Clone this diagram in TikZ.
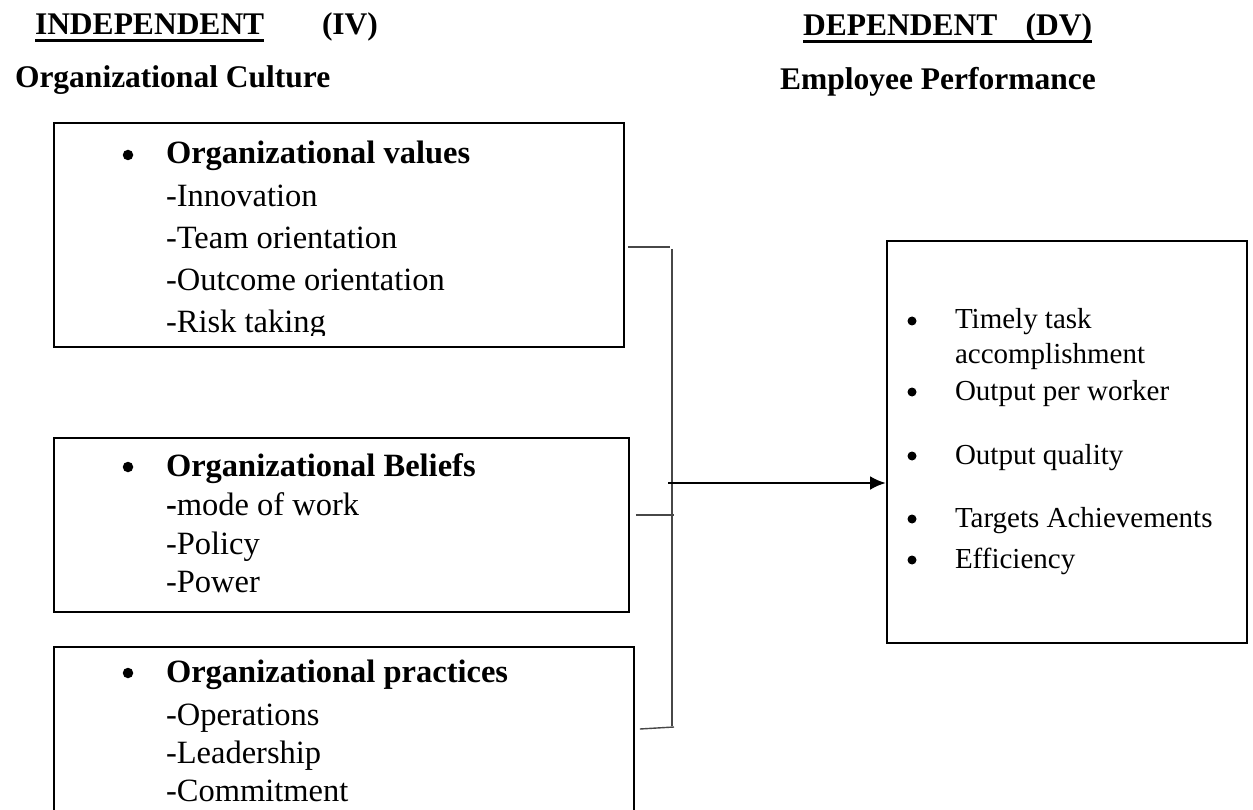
\documentclass[tikz,border=0pt]{standalone}
\usepackage{fontspec}
\setmainfont{Liberation Serif}
\usetikzlibrary{arrows.meta,calc}
\begin{document}
\begin{tikzpicture}[x=1pt,y=-1pt,
  txt/.style={inner sep=0pt, outer sep=0pt, anchor=base west, font=\fontsize{32.5}{38}\selectfont},
  btxt/.style={txt, font=\fontsize{32.5}{38}\selectfont\bfseries},
  htxt/.style={txt, font=\fontsize{31.5}{38}\selectfont\bfseries},
  rtxt/.style={txt, font=\fontsize{29}{34}\selectfont},
  bul/.style={circle, fill=black, inner sep=0pt, minimum size=10.5pt},
  rbul/.style={circle, fill=black, inner sep=0pt, minimum size=9pt},
  boxframe/.style={draw=black, line width=1.9pt, inner sep=0pt, anchor=north west},
  conn/.style={draw=black!72, line width=1.4pt},
  ularrow/.style={draw=black, line width=2.7pt, -{Latex[length=16pt,width=14pt]}},
  uline/.style={draw=black, line width=3pt}
]
\useasboundingbox (0,0) rectangle (1253,810);

% headers
\node[htxt] (ind) at (35,35) {INDEPENDENT};
\node[htxt] (iv) at (322,35) {(IV)};
\draw[uline] ($(ind.base west)+(0,6)$) -- ($(ind.base east)+(0,6)$);
\node[htxt] (oc) at (15,88) {Organizational Culture};
\node[htxt] (dep) at (803,36) {DEPENDENT\hspace{0.9em}(DV)};
\draw[uline] ($(dep.base west)+(0,6)$) -- ($(dep.base east)+(0,6)$);
\node[htxt] (ep) at (780,90) {Employee Performance};

% box 1
\node[boxframe, minimum width=570pt, minimum height=224pt] (b1) at (53,122) {};
\node[bul] (b1d) at (128,155) {};
\node[btxt] (b1h) at (166,164) {Organizational values};
\node[txt] (b1a) at (166,207) {-Innovation};
\node[txt] (b1b) at (166,249) {-Team orientation};
\node[txt] (b1c) at (166,291) {-Outcome orientation};
\begin{scope}
\clip (53,122) rectangle (623,336);
\node[txt] (b1e) at (166,333) {-Risk taking};
\end{scope}

% box 2
\node[boxframe, minimum width=575pt, minimum height=174pt] (b2) at (53,437) {};
\node[bul] (b2d) at (128,467) {};
\node[btxt] (b2h) at (166,476) {Organizational Beliefs};
\node[txt] (b2a) at (166,515) {\textbf{-}mode of work};
\node[txt] (b2b) at (166,554) {-Policy};
\node[txt] (b2c) at (166,592) {-Power};

% box 3 (continues below the page edge)
\node[boxframe, minimum width=580pt, minimum height=200pt] (b3) at (53,646) {};
\node[bul] (b3d) at (128,673) {};
\node[btxt] (b3h) at (166,682) {Organizational practices};
\node[txt] (b3a) at (166,725) {-Operations};
\node[txt] (b3b) at (166,763) {-Leadership};
\node[txt] (b3c) at (166,801) {-Commitment};

% right box
\node[boxframe, minimum width=360pt, minimum height=402pt] (rb) at (886,240) {};
\node[rbul] (r1d) at (912,321) {};
\node[rtxt] (r1) at (955,329) {Timely task};
\node[rtxt] (r1b) at (955,363) {accomplishment};
\node[rbul] (r2d) at (912,392) {};
\node[rtxt] (r2) at (955,400) {Output per worker};
\node[rbul] (r3d) at (912,456) {};
\node[rtxt] (r3) at (955,464) {Output quality};
\node[rbul] (r4d) at (912,519) {};
\node[rtxt] (r4) at (955,527) {Targets Achievements};
\node[rbul] (r5d) at (912,560) {};
\node[rtxt] (r5) at (955,568) {Efficiency};

% connectors
\coordinate (v1) at (672,249);
\coordinate (v3) at (672,726);
\coordinate (a0) at (668,483);
\draw[conn] ($(b1.east |- 0,247)+(3,0)$) -- (670,247);
\draw[conn] (v1) -- (v3);
\draw[conn] ($(b2.east |- 0,515)+(6,0)$) -- (674,515);
\draw[conn] ($(b3.east |- 0,729)+(5,0)$) -- (674,727);
\draw[ularrow] (a0) -- (rb.west |- a0);
\end{tikzpicture}
\end{document}
